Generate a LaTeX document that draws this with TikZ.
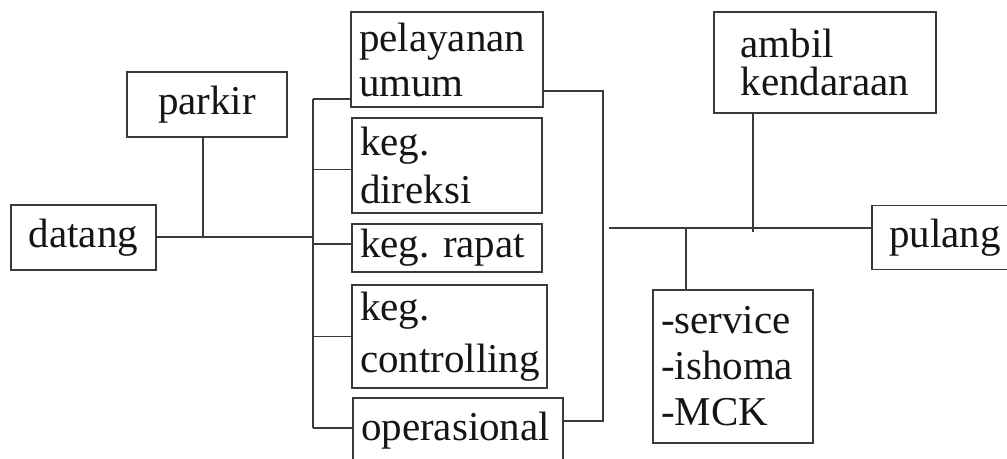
\documentclass[tikz,border=0pt]{standalone}
\usepackage{fontspec}
\setmainfont{Liberation Serif}
\definecolor{inkline}{HTML}{3A3A3A}
\definecolor{inktext}{HTML}{151515}
\newcommand{\lsp}[1]{\fontsize{20.5pt}{#1}\selectfont\frenchspacing}
\begin{document}
\begin{tikzpicture}[x=0.5pt,y=-0.5pt,
  box/.style={draw=inkline,line width=0.8pt,rectangle,inner sep=0pt,
    align=left,text=inktext,font=\lsp{22.5pt}},
  leftbox/.style={box,inner xsep=4pt,text width=#1},
  link/.style={draw=inkline,line width=0.8pt}]
\useasboundingbox (0,0) rectangle (1007,459);
\clip (0,0) rectangle (1007,459);
\fill[white] (0,0) rectangle (1007,459);

% boxes
\node[box,minimum width=80pt,minimum height=32.5pt] (parkir) at (207,104.5) {parkir};
\node[box,minimum width=72.5pt,minimum height=32.5pt] (datang) at (83.5,237.5) {datang};
\node[leftbox=88pt,minimum width=96pt,minimum height=47.5pt] (pel) at (447,59.5) {pelayanan\\umum};
\node[leftbox=87pt,minimum width=95pt,minimum height=47.5pt,font=\lsp{24pt}] (dir) at (447,165.5) {keg.\\[-0.2pt]direksi};
\node[leftbox=87pt,minimum width=95pt,minimum height=24pt] (rapat) at (447,248) {keg. rapat};
\node[leftbox=89.5pt,minimum width=97.5pt,minimum height=51.5pt,font=\lsp{26pt}] (ctrl) at (449.5,336.5) {keg.\\controlling};
\node[leftbox=97pt,minimum width=105pt,minimum height=33pt] (ops) at (458,431) {operasional};
\node[box,minimum width=111pt,minimum height=50.5pt,font=\lsp{19pt}] (ambil) at (825,62.5) {ambil\\kendaraan};
\node[box,minimum width=73pt,minimum height=32pt] (pulang) at (945,237.5) {pulang};
\node[leftbox=72pt,minimum width=80pt,minimum height=76.5pt,font=\lsp{23pt}] (svc) at (733,366.5) {-service\\-ishoma\\-MCK};

% left side: datang, parkir and the left bus
\coordinate (busT) at (313,99);
\coordinate (busB) at (313,428);
\coordinate (busM) at (313,237);
\draw[link] (datang.east |- busM) -- (busM);
\draw[link] ([xshift=-2pt]parkir.south) -- ([xshift=-2pt]parkir.south |- busM);
\draw[link] (busT) -- (busB);
\draw[link] (busT) -- (busT -| pel.west);
\draw[link] ([yshift=-2pt]busT |- dir.west) -- ([yshift=-2pt]dir.west);
\draw[link] ([yshift=2pt]busT |- rapat.west) -- ([yshift=2pt]rapat.west);
\draw[link] (busT |- ctrl.west) -- (ctrl.west);
\draw[link] (busB) -- (busB -| ops.west);

% right bus joining pelayanan umum and operasional
\coordinate (rbT) at (603,91);
\coordinate (rbB) at (603,421);
\draw[link] (rbT -| pel.east) -- (rbT) -- (rbB) -- (rbB -| ops.east);

% line towards pulang with its two branches
\coordinate (hL) at (609,228);
\draw[link] (hL) -- (hL -| pulang.west);
\draw[link] ([xshift=-36pt]ambil.south) -- ([xshift=-36pt,yshift=-2pt]ambil.south |- hL);
\draw[link] ([xshift=-23.5pt]svc.north) -- ([xshift=-23.5pt]svc.north |- hL);
\end{tikzpicture}
\end{document}
